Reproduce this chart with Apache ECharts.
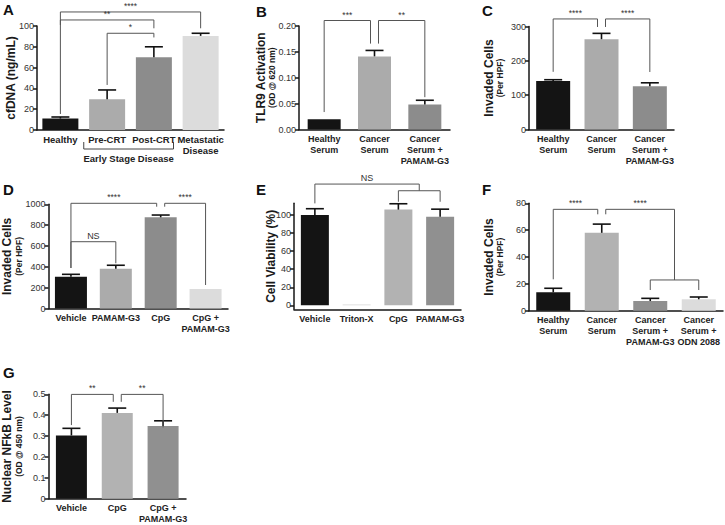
<!DOCTYPE html>
<html><head><meta charset="utf-8">
<script src="https://cdn.jsdelivr.net/npm/echarts@6/dist/echarts.min.js"></script>
<style>html,body{margin:0;padding:0;background:#fff}#c{width:725px;height:525px}</style>
</head><body><div id="c"></div>
<script>
// ---------- DATA ----------
const catsA = ['Healthy', 'Pre-CRT', 'Post-CRT', 'Metastatic\nDisease'];
const valsA = [11, 29.5, 70, 90.5];
const errA  = [1.5, 9, 10, 2.5];
const sigA  = [[0, 3, 113.5, 101, 97.8, '****'], [0, 2, 105.8, 15.4, 97.8, '**'], [1, 2, 93, 43.3, 89, '*']];
const groupA = [[1, 2, 'Early Stage Disease']];

const catsB = ['Healthy\nSerum', 'Cancer\nSerum', 'Cancer\nSerum +\nPAMAM-G3'];
const valsB = [0.02, 0.1413, 0.0485];
const errB  = [0, 0.0115, 0.008];
const sigB  = [[0, 1, 0.2106, 0.0337, 0.166, '***'], [1, 2, 0.2106, 0.166, 0.0625, '**']];

const catsC = ['Healthy\nSerum', 'Cancer\nSerum', 'Cancer\nSerum +\nPAMAM-G3'];
const valsC = [141, 263, 126];
const errC  = [4, 17, 10];
const sigC  = [[0, 1, 322, 168, 298.6, '****'], [1, 2, 322, 298.6, 167.5, '****']];

const catsD = ['Vehicle', 'PAMAM-G3', 'CpG', 'CpG +\nPAMAM-G3'];
const valsD = [305, 382, 875, 187];
const errD  = [23, 33, 22, 0];
const sigD  = [[0, 2, 1009.6, 388.7, 977, '****'], [2, 3, 1009.6, 977, 225.5, '****'], [0, 1, 641, 388.7, 433.8, 'NS']];

const catsE = ['Vehicle', 'Triton-X', 'CpG', 'PAMAM-G3'];
const valsE = [100, 1, 106, 98];
const errE  = [7, 0, 6.5, 8.5];
const sigE  = [[0, 2.5, 134.3, 112.9, 126.9, 'NS'], [2, 3, 126.9, 114.7, 114.7, '']];
const ticksE = [0, 20, 40, 60, 80, 100];

const catsF = ['Healthy\nSerum', 'Cancer\nSerum', 'Cancer\nSerum +\nPAMAM-G3', 'Cancer\nSerum +\nODN 2088'];
const valsF = [13.7, 58, 7.2, 8.5];
const errF  = [3, 6.5, 2, 1.7];
const sigF  = [[0, 1, 75.5, 23.4, 71.8, '****'], [1, 2.5, 75.5, 71.8, 22.9, '****'], [2, 3, 22.9, 15.4, 15.4, '']];

const catsG = ['Vehicle', 'CpG', 'CpG +\nPAMAM-G3'];
const valsG = [0.303, 0.411, 0.348];
const errG  = [0.034, 0.023, 0.025];
const sigG  = [[0, 1, 0.4995, 0.3526, 0.464, '**'], [1, 2, 0.4995, 0.464, 0.3416, '**']];

// ---------- STYLE / LAYOUT ----------
const FONT = '"Liberation Sans", Arial, Helvetica, sans-serif';
const K = '#141414', L1 = '#ababab', D1 = '#8c8c8c', W1 = '#dcdcdc', L2 = '#b2b2b2', D2 = '#909090';

const panels = [
  { letter: 'A', lx: 3, ly: 2, grid: { left: 37, top: 26, width: 187, height: 104 }, cats: catsA, vals: valsA, errs: errA, sig: sigA,
    colors: [K, L1, D1, W1], min: 0, max: 100, interval: 20, barWidth: 36, name: 'cfDNA (ng/mL)', gap: 20, catFont: 9.5 },
  { letter: 'B', lx: 256, ly: 4, grid: { left: 299, top: 26, width: 151, height: 103.5 }, cats: catsB, vals: valsB, errs: errB, sig: sigB,
    colors: [K, L1, D1], min: 0, max: 0.2, interval: 0.05, fmt: v => v.toFixed(2), barWidth: 33, name: 'TLR9 Activation', sub: '(OD @ 620 nm)', gap: 22 },
  { letter: 'C', lx: 482, ly: 3, grid: { left: 529, top: 26.5, width: 145, height: 103 }, cats: catsC, vals: valsC, errs: errC, sig: sigC,
    colors: [K, L1, D1], min: 0, max: 300, interval: 100, barWidth: 34, name: 'Invaded Cells', sub: '(Per HPF)', gap: 24 },
  { letter: 'D', lx: 3, ly: 182, grid: { left: 46, top: 204.3, width: 182, height: 104.2 }, cats: catsD, vals: valsD, errs: errD, sig: sigD,
    colors: [K, L1, D1, W1], min: 0, max: 1000, interval: 200, barWidth: 32, name: 'Invaded Cells', sub: '(Per HPF)', gap: 25 },
  { letter: 'E', lx: 256, ly: 182, grid: { left: 294, top: 203.3, width: 167, height: 106 }, cats: catsE, vals: valsE, errs: errE, sig: sigE,
    colors: [K, W1, L2, D2], min: -4.4, max: 113, custom: ticksE, barWidth: 28, name: 'Cell Viability (%)', gap: 17 },
  { letter: 'F', lx: 482, ly: 182, grid: { left: 529, top: 203.3, width: 194, height: 107.4 }, cats: catsF, vals: valsF, errs: errF, sig: sigF,
    colors: [K, L2, D2, W1], min: 0, max: 80, interval: 20, barWidth: 34, name: 'Invaded Cells', sub: '(Per HPF)', gap: 24 },
  { letter: 'G', lx: 3, ly: 365, grid: { left: 46, top: 394.3, width: 140, height: 104.4 }, cats: catsG, vals: valsG, errs: errG, sig: sigG,
    colors: [K, L2, D2], min: 0, max: 0.5, interval: 0.1, barWidth: 31, name: 'Nuclear NFkB Level', sub: '(OD @ 450 nm)', gap: 25 }
];

const AX = '#161616';
const option = {
  animation: false,
  backgroundColor: '#fff',
  textStyle: { fontFamily: FONT },
  title: [], grid: [], xAxis: [], yAxis: [], series: []
};

function errRender(p) {
  return function (params, api) {
    const k = params.dataIndex, v = api.value(1), e = api.value(2);
    if (!e) return null;
    const p0 = api.coord([k, v]), p1 = api.coord([k, v + e]);
    const cw = 18;
    return { type: 'group', children: [
      { type: 'line', shape: { x1: p0[0], y1: p0[1], x2: p1[0], y2: p1[1] }, style: { stroke: '#111', lineWidth: 1.6 } },
      { type: 'line', shape: { x1: p1[0] - cw / 2, y1: p1[1], x2: p1[0] + cw / 2, y2: p1[1] }, style: { stroke: '#111', lineWidth: 1.6 } }
    ] };
  };
}

function sigRender(br) {
  return function (params, api) {
    const b = br[params.dataIndex];
    const l = b[0], r = b[1];
    const xAt = f => {
      const lo = Math.floor(f), hi = Math.ceil(f);
      const a = api.coord([lo, 0])[0];
      if (lo === hi) return a;
      const c = api.coord([hi, 0])[0];
      return a + (c - a) * (f - lo);
    };
    const gap = 4;
    const dxL = br.some(o => o !== b && o[1] === l) ? gap : 0;
    const dxR = br.some(o => o !== b && o[0] === r) ? -gap : 0;
    const xL = xAt(l) + dxL, xR = xAt(r) + dxR;
    const yT = api.coord([0, b[2]])[1], yL = api.coord([0, b[3]])[1], yR = api.coord([0, b[4]])[1];
    const ch = [{ type: 'polyline', shape: { points: [[xL, yL], [xL, yT], [xR, yT], [xR, yR]] },
      style: { stroke: '#555', lineWidth: 1, fill: null } }];
    if (b[5]) ch.push({ type: 'text', x: (xL + xR) / 2, y: yT - 1.5,
      style: { text: b[5], textAlign: 'center', align: 'center', textVerticalAlign: 'bottom', verticalAlign: 'bottom',
        fontSize: b[5] === 'NS' ? 9 : 8.5, fontFamily: FONT, fill: '#333' } });
    return { type: 'group', children: ch };
  };
}

function groupRender(g) {
  return function (params, api) {
    const b = g[params.dataIndex];
    const c1 = api.coord([b[0], 0]), c2 = api.coord([b[1], 0]);
    const band = api.size([1, 0])[0];
    const y0 = c1[1];
    const xL = c1[0] - band * 0.5, xR = c2[0] + band * 0.42;
    return { type: 'group', children: [
      { type: 'polyline', shape: { points: [[xL, y0 + 12], [xL, y0 + 19], [xR, y0 + 19], [xR, y0 + 12]] }, style: { stroke: '#444', lineWidth: 1, fill: null } },
      { type: 'text', x: (xL + xR) / 2, y: y0 + 23, style: { text: b[2], textAlign: 'center', align: 'center', textVerticalAlign: 'top', verticalAlign: 'top',
        fontSize: 9.5, fontWeight: 'bold', fontFamily: FONT, fill: '#222' } }
    ] };
  };
}

panels.forEach((p, i) => {
  option.title.push({ text: p.letter, left: p.lx, top: p.ly, padding: 0,
    textStyle: { fontSize: 15, fontWeight: 'bold', color: '#111', fontFamily: FONT } });
  option.grid.push(Object.assign({ containLabel: false }, p.grid));
  option.xAxis.push({
    gridIndex: i, type: 'category', data: p.cats,
    axisLine: { onZero: false, lineStyle: { color: AX, width: 1.5 } },
    axisTick: { alignWithLabel: true, length: 4, lineStyle: { color: AX, width: 1.5 } },
    axisLabel: { interval: 0, fontSize: p.catFont || 9, fontWeight: 'bold', color: '#222', lineHeight: 11, margin: 4, fontFamily: FONT },
    splitLine: { show: false }
  });
  const y = {
    gridIndex: i, type: 'value', min: p.min, max: p.max,
    axisLine: { show: true, lineStyle: { color: AX, width: 1.5 } },
    axisTick: { show: true, length: 4, lineStyle: { color: AX, width: 1.5 } },
    axisLabel: { fontSize: 9, color: '#333', margin: 3, fontFamily: FONT, formatter: p.fmt || (v => String(v)) },
    splitLine: { show: false },
    nameLocation: 'middle', nameRotate: 90, nameGap: p.gap, nameMoveOverlap: false,
    nameTextStyle: { fontFamily: FONT, color: '#1a1a1a', fontWeight: 'bold', fontSize: 12,
      rich: { a: { fontSize: 12, fontWeight: 'bold', lineHeight: 13, fontFamily: FONT, color: '#1a1a1a' },
              b: { fontSize: 8.5, fontWeight: 'bold', lineHeight: 10, fontFamily: FONT, color: '#1a1a1a' } } },
    name: p.sub ? '{a|' + p.name + '}\n{b|' + p.sub + '}' : p.name
  };
  if (p.interval) y.interval = p.interval;
  if (p.custom) {
    y.axisLabel.customValues = p.custom;
    y.axisTick.customValues = p.custom;
    y.axisLabel.formatter = v => (p.custom.indexOf(Math.round(v * 1000) / 1000) >= 0 ? String(v) : '');
  }
  option.yAxis.push(y);

  option.series.push({
    type: 'bar', xAxisIndex: i, yAxisIndex: i, barWidth: p.barWidth, silent: true,
    data: p.vals.map((v, k) => ({ value: v, itemStyle: { color: p.colors[k] } }))
  });
  option.series.push({
    type: 'custom', xAxisIndex: i, yAxisIndex: i, clip: false, silent: true, z: 3,
    encode: { x: 0, y: 1 },
    data: p.vals.map((v, k) => [k, v, p.errs[k]]),
    renderItem: errRender(p)
  });
  option.series.push({
    type: 'custom', xAxisIndex: i, yAxisIndex: i, clip: false, silent: true, z: 3,
    encode: { x: 0, y: 1 },
    data: p.sig.map(b => [b[0], b[2]]),
    renderItem: sigRender(p.sig)
  });
  if (i === 0) {
    option.series.push({
      type: 'custom', xAxisIndex: 0, yAxisIndex: 0, clip: false, silent: true, z: 3,
      encode: { x: 0, y: 1 },
      data: groupA.map(g => [g[0], 0]),
      renderItem: groupRender(groupA)
    });
  }
});

const chart = echarts.init(document.getElementById('c'), null, { renderer: 'svg', width: 725, height: 525 });
chart.setOption(option);
</script>
</body></html>
